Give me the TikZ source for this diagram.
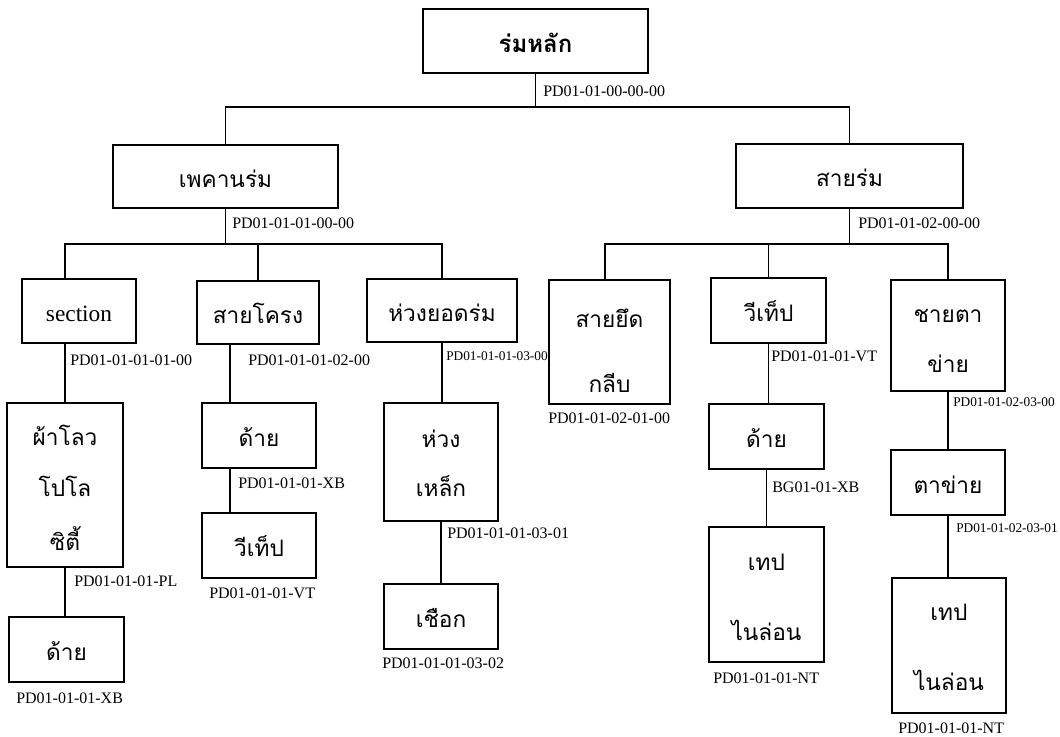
\documentclass[tikz,border=0pt]{standalone}
\usepackage{fontspec}
\setmainfont{Liberation Serif}
\newfontfamily\thaifont[Script=Thai]{Loma}
\begin{document}
\begin{tikzpicture}[x=0.75pt,y=-0.75pt,
  bx/.style={draw, line width=1.5pt, inner sep=0pt, font=\thaifont\fontsize{17}{21}\selectfont, text height=16pt, text depth=0pt},
  tl/.style={anchor=base, inner sep=0pt, font=\thaifont\fontsize{17}{21}\selectfont},
  cd/.style={anchor=west, inner sep=0pt, font=\fontsize{12}{14}\selectfont},
  cds/.style={anchor=west, inner sep=0pt, font=\fontsize{10}{12}\selectfont},
  ln/.style={line width=1.4pt}]
\fill[white] (0,0) rectangle (1060,737);
\useasboundingbox (0,0) rectangle (1060,737);

% level 0
\node[bx, minimum width=168.75pt, minimum height=48pt, font=\thaifont\bfseries\fontsize{18}{22}\selectfont, text height=17pt] (root) at (535.5,41) {ร่มหลัก};
% level 1
\node[bx, minimum width=168.75pt, minimum height=47.25pt] (pedan) at (225.5,176.5) {เพคานร่ม};
\node[bx, minimum width=170.25pt, minimum height=48pt] (sairom) at (849.5,176) {สายร่ม};
% level 2 left
\node[bx, minimum width=85.5pt, minimum height=48pt, font=\fontsize{17.5}{20}\selectfont] (section) at (79,311) {section};
\node[bx, minimum width=91.5pt, minimum height=47.25pt] (saikrong) at (258,312.5) {สายโครง};
\node[bx, minimum width=112.5pt, minimum height=47.25pt] (huangyod) at (442,310.5) {ห่วงยอดร่ม};
% level 2 right
\node[bx, minimum width=90.75pt, minimum height=93pt] (saiyued) at (609.5,342) {};
\node[tl] (saiyued1) at (609.5,328) {สายยึด};
\node[tl] (saiyued2) at (609.5,393) {กลีบ};
\node[bx, minimum width=86.25pt, minimum height=48.75pt] (vitape1) at (768.5,310.5) {วีเท็ป};
\node[bx, minimum width=85.5pt, minimum height=83.25pt] (chaita) at (948,335.5) {};
\node[tl] (chaita1) at (948,323) {ชายตา};
\node[tl] (chaita2) at (948,373) {ข่าย};
% level 3 left
\node[bx, minimum width=87pt, minimum height=123pt] (phalo) at (65,485) {};
\node[tl] (phalo1) at (65,446) {ผ้าโลว};
\node[tl] (phalo2) at (65,497) {โปโล};
\node[tl] (phalo3) at (65,550) {ซิตี้};
\node[bx, minimum width=86.25pt, minimum height=48.75pt] (dai1) at (66.5,649.5) {ด้าย};
\node[bx, minimum width=85.5pt, minimum height=48.75pt] (dai2) at (259,435.5) {ด้าย};
\node[bx, minimum width=85.5pt, minimum height=48.75pt] (vitape2) at (259,545.5) {วีเท็ป};
\node[bx, minimum width=85.5pt, minimum height=88.5pt] (huanglek) at (441,462) {};
\node[tl] (huanglek1) at (441,448) {ห่วง};
\node[tl] (huanglek2) at (441,497) {เหล็ก};
\node[bx, minimum width=85.5pt, minimum height=48.75pt] (chueak) at (441,616.5) {เชือก};
% level 3 right
\node[bx, minimum width=86.25pt, minimum height=48.75pt] (dai3) at (766.5,436.5) {ด้าย};
\node[bx, minimum width=86.25pt, minimum height=101.25pt] (tape1) at (766.5,594.5) {};
\node[tl] (tape1a) at (766.5,570) {เทป};
\node[tl] (tape1b) at (766.5,640) {ไนล่อน};
\node[bx, minimum width=85.5pt, minimum height=48.75pt] (taki) at (948,482.5) {ตาข่าย};
\node[bx, minimum width=85.5pt, minimum height=101.25pt] (tape2) at (949,645.5) {};
\node[tl] (tape2a) at (949,620) {เทป};
\node[tl] (tape2b) at (949,690) {ไนล่อน};

% codes
\node[cd] (c0) at (543,91) {PD01-01-00-00-00};
\node[cd] (c1) at (232,223.5) {PD01-01-01-00-00};
\node[cd] (c2) at (858,223.5) {PD01-01-02-00-00};
\node[cd] (c3) at (70,360) {PD01-01-01-01-00};
\node[cd] (c4) at (248,360) {PD01-01-01-02-00};
\node[cds] (c5) at (446,356.5) {PD01-01-01-03-00};
\node[cd] (c6) at (74,581) {PD01-01-01-PL};
\node[cd] (c7) at (16,698) {PD01-01-01-XB};
\node[cd] (c8) at (238,483.5) {PD01-01-01-XB};
\node[cd] (c9) at (209,593.5) {PD01-01-01-VT};
\node[cd] (c10) at (447,533.5) {PD01-01-01-03-01};
\node[cd] (c11) at (382,663.5) {PD01-01-01-03-02};
\node[cd] (c12) at (548,418) {PD01-01-02-01-00};
\node[cd] (c13) at (771,356.5) {PD01-01-01-VT};
\node[cd] (c14) at (772,487) {BG01-01-XB};
\node[cd] (c15) at (713,678.5) {PD01-01-01-NT};
\node[cds] (c16) at (953,402.5) {PD01-01-02-03-00};
\node[cds] (c17) at (956,528.5) {PD01-01-02-03-01};
\node[cd] (c18) at (898,728.5) {PD01-01-01-NT};

% connectors
\coordinate (bus0) at (535.5,107);
\coordinate (bus1) at (225.5,244);
\coordinate (bus2) at (849.5,244);
\coordinate (kx) at (230,0);
\coordinate (sx) at (605,0);
\draw[ln] (root.south) -- (bus0);
\draw[ln] (pedan.north) |- (bus0) -| (sairom.north);
\draw[ln] (pedan.south) -- (bus1);
\draw[ln] (phalo.north |- section.north) |- (bus1) -| (huangyod.north);
\draw[ln] (bus1) -| (saikrong.north);
\draw[ln] (phalo.north |- section.south) -- (phalo.north);
\draw[ln] (phalo.south) -- (phalo.south |- dai1.north);
\draw[ln] (saikrong.south -| kx) -- (dai2.north -| kx);
\draw[ln] (dai2.south -| kx) -- (vitape2.north -| kx);
\draw[ln] (huangyod.south) -- (huangyod.south |- huanglek.north);
\draw[ln] (huanglek.south) -- (huanglek.south |- chueak.north);
\draw[ln] (sairom.south) -- (bus2);
\draw[ln] (saiyued.north -| sx) |- (bus2) -| (chaita.north);
\draw[ln] (bus2) -| (vitape1.north);
\draw[ln] (vitape1.south) -- (vitape1.south |- dai3.north);
\draw[ln] (dai3.south) -- (dai3.south |- tape1.north);
\draw[ln] (chaita.south) -- (chaita.south |- taki.north);
\draw[ln] (taki.south) -- (taki.south |- tape2.north);
\end{tikzpicture}
\end{document}
